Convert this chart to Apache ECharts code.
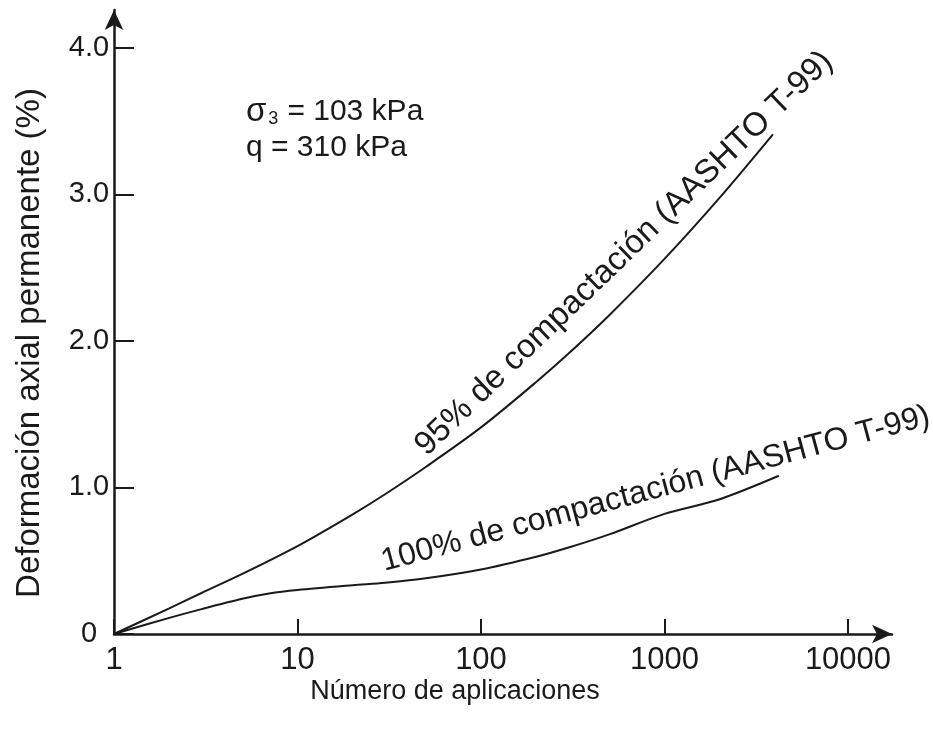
<!DOCTYPE html>
<html>
<head>
<meta charset="utf-8">
<script src="https://cdn.jsdelivr.net/npm/echarts@6/dist/echarts.min.js"></script>
<style>
  html, body { margin: 0; padding: 0; background: #fff; }
  #chart { width: 933px; height: 742px; }
</style>
</head>
<body>
<div id="chart"></div>
<script>
// Tick positions on both axes
const xTicks = [1, 10, 100, 1000, 10000];
const yTicks = [0, 1, 2, 3, 4];

// 95% compaction (AASHTO T-99): number of load applications vs. permanent axial strain (%)
const n95 = [1, 2, 3, 5, 10, 20, 30, 50, 100, 200, 300, 500, 1000, 2000, 3900];
const d95 = [0, 0.175, 0.28, 0.41, 0.60, 0.817, 0.954, 1.14, 1.41, 1.72, 1.914, 2.176, 2.56, 2.978, 3.41];

// 100% compaction (AASHTO T-99)
const n100 = [1, 2, 3, 5, 7, 10, 20, 30, 50, 100, 200, 300, 500, 1000, 2000, 4200];
const d100 = [0, 0.11, 0.17, 0.24, 0.276, 0.30, 0.333, 0.35, 0.38, 0.44, 0.527, 0.59, 0.68, 0.82, 0.92, 1.08];

const ink = '#1a1a1a';
const font = '"Liberation Sans", Arial, sans-serif';

const zip = (xs, ys) => xs.map((x, i) => [x, ys[i]]);

const chart = echarts.init(document.getElementById('chart'), null, { renderer: 'canvas' });

chart.setOption({
  backgroundColor: '#fff',
  animation: false,
  grid: { left: 114, right: 41, top: 10, bottom: 108, containLabel: false },
  xAxis: {
    type: 'log',
    logBase: 10,
    min: 1,
    max: 17373,
    axisLine: {
      show: true,
      lineStyle: { color: ink, width: 2.5 },
      symbol: ['none', 'arrow'],
      symbolSize: [14, 20]
    },
    axisTick: {
      show: true,
      inside: true,
      length: 15,
      lineStyle: { color: ink, width: 2 },
      customValues: xTicks
    },
    axisLabel: {
      customValues: xTicks,
      color: ink,
      fontFamily: font,
      fontSize: 31,
      margin: 11,
      formatter: v => String(Math.round(v))
    },
    splitLine: { show: false },
    minorTick: { show: false }
  },
  yAxis: {
    type: 'value',
    min: 0,
    max: 4.259,
    axisLine: {
      show: true,
      lineStyle: { color: ink, width: 2.5 },
      symbol: ['none', 'arrow'],
      symbolSize: [14, 20]
    },
    axisTick: {
      show: true,
      inside: true,
      length: 20,
      lineStyle: { color: ink, width: 2 },
      customValues: yTicks
    },
    axisLabel: {
      customValues: yTicks,
      color: ink,
      fontFamily: font,
      fontSize: 29,
      align: 'center',
      margin: 25,
      formatter: v => (v === 0 ? '0' : v.toFixed(1))
    },
    splitLine: { show: false }
  },
  series: [
    {
      name: '95% de compactación (AASHTO T-99)',
      type: 'line',
      data: zip(n95, d95),
      smooth: 0.3,
      showSymbol: false,
      lineStyle: { color: ink, width: 2 }
    },
    {
      name: '100% de compactación (AASHTO T-99)',
      type: 'line',
      data: zip(n100, d100),
      smooth: 0.3,
      showSymbol: false,
      lineStyle: { color: ink, width: 2 }
    }
  ],
  graphic: [
    {
      type: 'text',
      left: 246, top: 95,
      style: {
        rich: {
          s: { fontFamily: font, fontSize: 30, fill: ink },
          g: { fontFamily: font, fontSize: 33, fill: ink },
          sub: { fontFamily: font, fontSize: 18, fill: ink, verticalAlign: 'bottom', padding: [12, 9, 0, 2] }
        },
        text: '{g|σ}{sub|3}{s|= 103 kPa}'
      }
    },
    {
      type: 'text',
      left: 246, top: 133,
      style: { text: 'q = 310 kPa', fontFamily: font, fontSize: 30, fill: ink }
    },
    {
      type: 'text',
      x: 455, y: 692,
      style: {
        text: 'Número de aplicaciones',
        fontFamily: font, fontSize: 27, fill: ink,
        align: 'center', verticalAlign: 'middle'
      }
    },
    {
      type: 'text',
      x: 30, y: 343,
      rotation: Math.PI / 2,
      style: {
        text: 'Deformación axial permanente (%)',
        fontFamily: font, fontSize: 33, fill: ink,
        align: 'center', verticalAlign: 'middle'
      }
    },
    {
      type: 'text',
      x: 432, y: 462,
      rotation: 44 * Math.PI / 180,
      style: {
        text: '95% de compactación (AASHTO T-99)',
        fontFamily: font, fontSize: 33, fill: ink,
        align: 'left', verticalAlign: 'bottom'
      }
    },
    {
      type: 'text',
      x: 386, y: 578,
      rotation: 15 * Math.PI / 180,
      style: {
        text: '100% de compactación (AASHTO T-99)',
        fontFamily: font, fontSize: 32, fill: ink,
        align: 'left', verticalAlign: 'bottom'
      }
    }
  ]
});
</script>
</body>
</html>
